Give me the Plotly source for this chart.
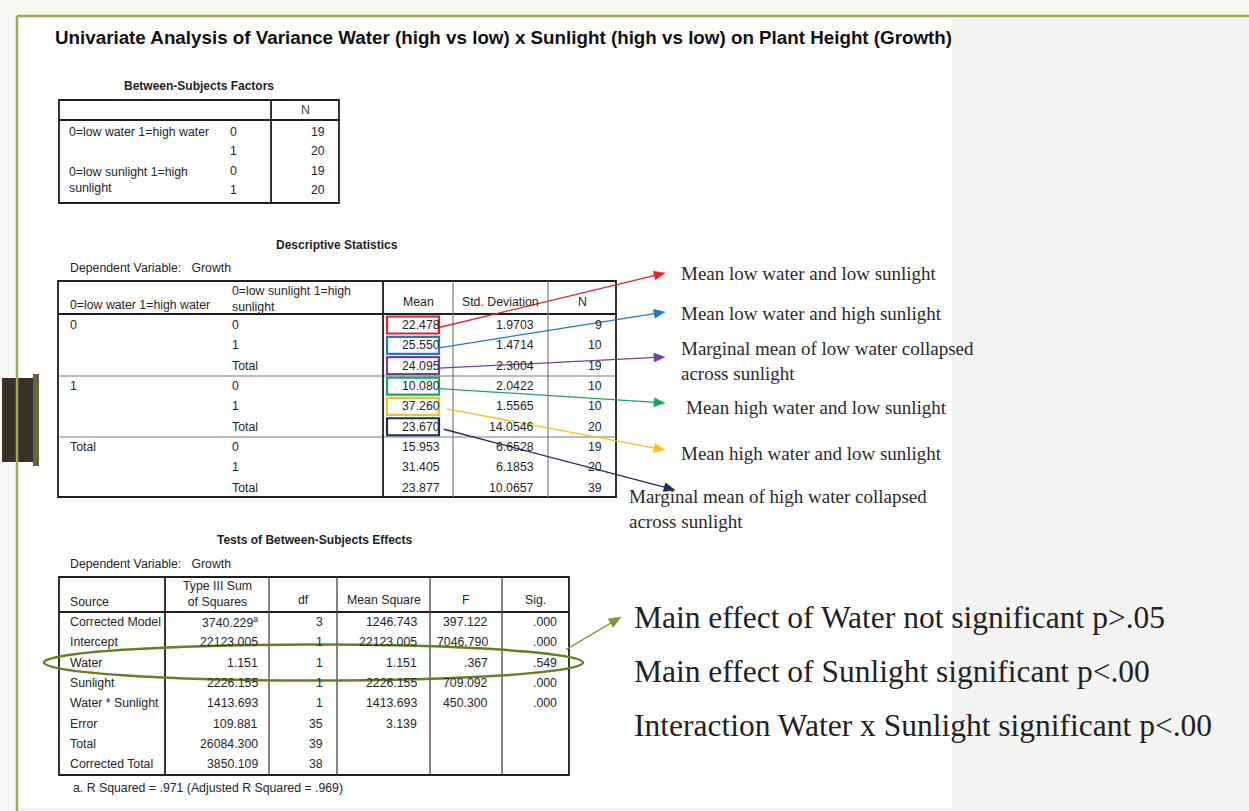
import math
import plotly.graph_objects as go

W, H = 1249, 811

# ---------------- data ----------------
title_text = "Univariate Analysis of Variance Water (high vs low) x Sunlight (high vs low) on Plant Height (Growth)"

bs_title = "Between-Subjects Factors"
bs_factors = ["0=low water 1=high water", "0=low sunlight 1=high<br>sunlight"]
bs_levels = ["0", "1", "0", "1"]
bs_n = [19, 20, 19, 20]

desc_title = "Descriptive Statistics"
dep_var = "Dependent Variable:   Growth"
desc_headers = ["0=low water 1=high water", "0=low sunlight 1=high<br>sunlight", "Mean", "Std. Deviation", "N"]
desc_water = ["0", "1", "Total"]
desc_sun = ["0", "1", "Total"]
desc_mean = ["22.478", "25.550", "24.095", "10.080", "37.260", "23.670", "15.953", "31.405", "23.877"]
desc_std = ["1.9703", "1.4714", "2.3004", "2.0422", "1.5565", "14.0546", "6.6528", "6.1853", "10.0657"]
desc_n = [9, 10, 19, 10, 10, 20, 19, 20, 39]

tests_title = "Tests of Between-Subjects Effects"
tests_headers = ["Source", "Type III Sum<br>of Squares", "df", "Mean Square", "F", "Sig."]
tests_source = ["Corrected Model", "Intercept", "Water", "Sunlight", "Water * Sunlight",
                "Error", "Total", "Corrected Total"]
tests_ss = ["3740.229<sup>a</sup>", "22123.005", "1.151", "2226.155", "1413.693", "109.881", "26084.300", "3850.109"]
tests_df = [3, 1, 1, 1, 1, 35, 39, 38]
tests_ms = ["1246.743", "22123.005", "1.151", "2226.155", "1413.693", "3.139", "", ""]
tests_f = ["397.122", "7046.790", ".367", "709.092", "450.300", "", "", ""]
tests_sig = [".000", ".000", ".549", ".000", ".000", "", "", ""]
tests_note = "a. R Squared = .971 (Adjusted R Squared = .969)"

callout_labels = ["Mean low water and low sunlight",
                  "Mean low water and high sunlight",
                  "Marginal mean of low water collapsed<br>across sunlight",
                  "Mean high water and low sunlight",
                  "Mean high water and low sunlight",
                  "Marginal mean of high water collapsed<br>across sunlight"]
callout_colors = ["#e8202a", "#2479b8", "#7a3d9c", "#1ca562", "#f3c21a", "#1b2b5e"]

summary_lines = ["Main effect of Water not significant p>.05",
                 "Main effect of Sunlight significant p<.00",
                 "Interaction Water x Sunlight significant p<.00"]

# ---------------- style / layout ----------------
SANS = "Liberation Sans, Arial, sans-serif"
SERIF = "Liberation Serif, Times New Roman, serif"
TXT = "#262626"
DARK = "#1e1e1e"
THIN = "#7a7a7a"
OLIVE = "#9aaa52"
ELL = "#658024"
TS = 12.3  # table text size

shapes = []
annots = []


def line(x0, y0, x1, y1, color=DARK, width=1.0):
    shapes.append(dict(type="line", xref="x", yref="y", x0=x0, y0=y0, x1=x1, y1=y1,
                       line=dict(color=color, width=width), layer="above"))


def rect(x0, y0, x1, y1, fill=None, color=None, width=0, layer="below"):
    shapes.append(dict(type="rect", xref="x", yref="y", x0=x0, y0=y0, x1=x1, y1=y1,
                       fillcolor=fill if fill else "rgba(0,0,0,0)",
                       line=dict(color=color if color else "rgba(0,0,0,0)", width=width),
                       layer=layer))


def text(x, y, s, size=TS, anchor="left", vanchor="middle", bold=False, font=SANS, color=TXT):
    if s == "":
        return
    if bold:
        s = "<b>" + s + "</b>"
    annots.append(dict(x=x, y=y, xref="x", yref="y", text=s, showarrow=False,
                       xanchor=anchor, yanchor=vanchor, align=anchor if anchor != "center" else "center",
                       font=dict(family=font, size=size, color=color)))


def arrow(x0, y0, x1, y1, color, width=1.3, hl=11, hw=4.5):
    dx, dy = x1 - x0, y1 - y0
    L = math.hypot(dx, dy)
    ux, uy = dx / L, dy / L
    bx, by = x1 - ux * hl, y1 - uy * hl
    px, py = -uy, ux
    line(x0, y0, bx + ux * 2, by + uy * 2, color=color, width=width)
    path = "M {:.2f} {:.2f} L {:.2f} {:.2f} L {:.2f} {:.2f} Z".format(
        x1, y1, bx + px * hw, by + py * hw, bx - px * hw, by - py * hw)
    shapes.append(dict(type="path", xref="x", yref="y", path=path, fillcolor=color,
                       line=dict(color=color, width=0.5), layer="above"))


# background pieces
rect(0, 0, W, 16, fill="#f8f8f1")
rect(0, 16, 17, H, fill="#f6f6f4")
rect(17, 17, 952, 808, fill="#ffffff")
line(17, 16, W, 16, color=OLIVE, width=2.5)
line(17, 16, 17, H, color=OLIVE, width=2.5)
# binder clip
rect(2, 378, 38, 462, fill="#3b3029")
rect(33, 374, 39, 466, fill="#6a6240")

# ---------- Between-Subjects Factors ----------
bl, br, bsep, btop, bhead, bbot = 59, 339, 271, 100, 120, 203
text((bl + br) / 2, 86, bs_title, size=12, anchor="center", bold=True, color=DARK)
rect(bl, btop, br, bbot, color=DARK, width=1.8, layer="above")
line(bl, bhead, br, bhead, width=1.8)
line(bsep, btop, bsep, bbot, width=1.8)
text((bsep + br) / 2, 110, "N", anchor="center", color="#444")
bs_rows = [132 + 19.4 * i for i in range(4)]
text(67, bs_rows[0], bs_factors[0])
text(67, bs_rows[2] - 7.5, bs_factors[1], vanchor="top")
for i in range(4):
    text(233, bs_rows[i], bs_levels[i], anchor="center")
    text(327, bs_rows[i], str(bs_n[i]), anchor="right")

# ---------- Descriptive Statistics ----------
dl, dr, dtop, dhead, dbot = 58, 616, 281, 314, 497
dsep = [383, 453, 548]
dgroups = [376, 437]
text((dl + dr) / 2, 245, desc_title, size=12, anchor="center", bold=True, color=DARK)
text(68, 268, dep_var)
rect(dl, dtop, dr, dbot, color=DARK, width=1.8, layer="above")
line(dl, dhead, dr, dhead, width=1.8)
for gy in dgroups:
    line(dl, gy, dr, gy, color=THIN, width=1.2)
line(dsep[0], dtop, dsep[0], dbot, width=1.8)
for sx in dsep[1:]:
    line(sx, dtop, sx, dbot, color=THIN, width=1.2)
text(68, 305, desc_headers[0])
text(230, 282, desc_headers[1], vanchor="top")
text((dsep[0] + dsep[1]) / 2, 302, desc_headers[2], anchor="center")
text((dsep[1] + dsep[2]) / 2, 302, desc_headers[3], anchor="center")
text((dsep[2] + dr) / 2, 302, desc_headers[4], anchor="center")
d_rows = [325 + 20.35 * i for i in range(9)]
for i in range(9):
    if i % 3 == 0:
        text(68, d_rows[i], desc_water[i // 3])
    text(230, d_rows[i], desc_sun[i % 3])
    text(442, d_rows[i], desc_mean[i], anchor="right")
    text(536, d_rows[i], desc_std[i], anchor="right")
    text(604, d_rows[i], str(desc_n[i]), anchor="right")

# coloured boxes + arrows + callouts
box_l, box_r = 387, 439
label_x = [679, 679, 679, 684, 679, 627]
label_y = [273, 313, 347, 407, 453, 495]
tip = [(665, 273), (665, 312), (665, 357), (665, 403), (665, 450), (675, 490)]
start_dx = [0, 0, 0, 0, 8, 5]
for k in range(6):
    ry = d_rows[k]
    rect(box_l, ry - 8.5, box_r, ry + 8.5, color=callout_colors[k], width=2.2, layer="above")
    arrow(box_r + start_dx[k], ry + 2.5, tip[k][0], tip[k][1], callout_colors[k])
    if "<br>" in callout_labels[k]:
        text(label_x[k], label_y[k] - 11.5, callout_labels[k], size=19, font=SERIF, vanchor="top", color="#2a2a2a")
    else:
        text(label_x[k], label_y[k], callout_labels[k], size=19, font=SERIF, color="#2a2a2a")

# ---------- Tests of Between-Subjects Effects ----------
tl, tr, ttop, thead, tbot = 59, 569, 577, 612, 775
tsep = [165, 269, 337, 430, 502]
text((tl + tr) / 2, 540, tests_title, size=12, anchor="center", bold=True, color=DARK)
text(68, 564, dep_var)
rect(tl, ttop, tr, tbot, color=DARK, width=1.8, layer="above")
line(tl, thead, tr, thead, width=1.8)
line(tsep[0], ttop, tsep[0], tbot, width=1.8)
for sx in tsep[1:]:
    line(sx, ttop, sx, tbot, color="#444", width=1.3)
text(68, 602, tests_headers[0])
text((tsep[0] + tsep[1]) / 2, 577, tests_headers[1], anchor="center", vanchor="top")
hdr_cols = [(tsep[1], tsep[2]), (tsep[2], tsep[3]), (tsep[3], tsep[4]), (tsep[4], tr)]
for j, (a, b) in enumerate(hdr_cols):
    text((a + b) / 2, 600, tests_headers[j + 2], anchor="center")
t_rows = [622 + 20.3 * i for i in range(8)]
for i in range(8):
    text(68, t_rows[i], tests_source[i])
    text(260, t_rows[i], tests_ss[i], anchor="right")
    text(325, t_rows[i], str(tests_df[i]), anchor="right")
    text(419, t_rows[i], tests_ms[i], anchor="right")
    text(490, t_rows[i], tests_f[i], anchor="right")
    text(559, t_rows[i], tests_sig[i], anchor="right")
text(71, 788, tests_note)

# ellipse round the Water row + arrow to summary
shapes.append(dict(type="circle", xref="x", yref="y", x0=44, y0=t_rows[2] - 18, x1=583, y1=t_rows[2] + 18,
                   line=dict(color=ELL, width=2.5), layer="above"))
arrow(566, t_rows[2] - 13, 621, 617, "#7f9a35", width=1.4, hl=12, hw=5)

# summary statements
summary_y = [617, 671, 725]
for s, y in zip(summary_lines, summary_y):
    text(632, y, s, size=31.5, font=SERIF, color="#222222")

fig = go.Figure()
fig.update_layout(
    width=W, height=H,
    margin=dict(l=0, r=0, t=0, b=0),
    paper_bgcolor="#f3f3f2", plot_bgcolor="#f3f3f2",
    title=dict(text="<b>" + title_text + "</b>", x=55 / W, xanchor="left", xref="paper",
               y=1 - 37 / H, yanchor="middle", yref="container",
               font=dict(family=SANS, size=18.8, color="#111111")),
    xaxis=dict(range=[0, W], visible=False, fixedrange=True),
    yaxis=dict(range=[H, 0], visible=False, fixedrange=True),
    shapes=shapes, annotations=annots, showlegend=False,
)
fig.write_html("out.html", config={"displayModeBar": False},
               post_script="document.body.style.margin='0';document.body.style.overflow='hidden';")
